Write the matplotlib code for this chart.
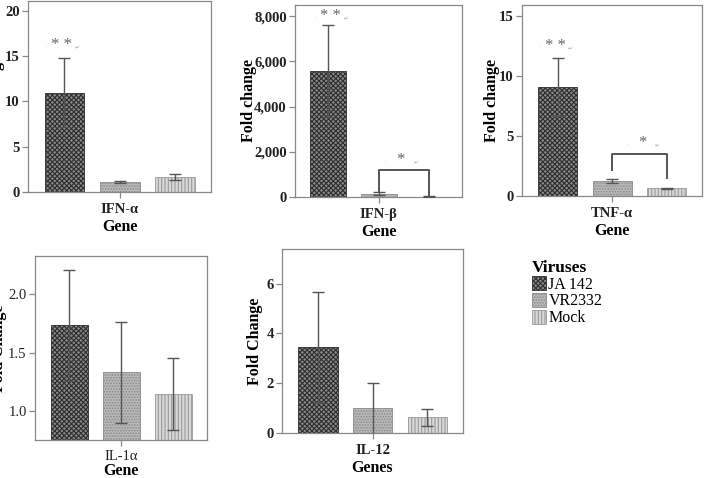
import matplotlib
matplotlib.use("Agg")
import matplotlib.pyplot as plt
from matplotlib.patches import Patch

plt.rcParams["font.family"] = ["Liberation Serif", "DejaVu Sans"]
plt.rcParams["hatch.linewidth"] = 0.8

# data
viruses = ["JA 142", "VR2332", "Mock"]

ifna_mean = [10.9, 1.1, 1.65]
ifna_lo = [7.2, 1.0, 1.3]
ifna_hi = [14.8, 1.2, 1.95]

ifnb_mean = [5550, 130, 20]
ifnb_lo = [3550, 70, 10]
ifnb_hi = [7600, 200, 30]

tnfa_mean = [9.1, 1.25, 0.65]
tnfa_lo = [6.7, 1.1, 0.62]
tnfa_hi = [11.5, 1.4, 0.68]

il1a_mean = [1.74, 1.33, 1.145]
il1a_lo = [1.26, 0.895, 0.84]
il1a_hi = [2.21, 1.765, 1.45]

il12_mean = [3.47, 0.99, 0.63]
il12_lo = [1.23, -0.05, 0.28]
il12_hi = [5.68, 2.0, 0.96]

# bar styles (face, hatch colour, hatch)
styles = [("#8a8a8a", "#2e2e2e", "xxxxxxx"),
          ("#b8b8b8", "#8a8a8a", "......"),
          ("#d8d8d8", "#9a9a9a", "|||||")]

fig = plt.figure(figsize=(7.04, 4.78), dpi=100)
W, H = 704.0, 478.0


def make_ax(l, r, t, b):
    return fig.add_axes([l / W, 1 - b / H, (r - l) / W, (b - t) / H])


def panel(ax, mean, lo, hi, ylim, yticks, ytl, gene, xlab, ylab, ylab_x,
          bold=True, xpad=4, labelpad=2):
    x = [0, 1, 2]
    for i in x:
        fc, hc, hatch = styles[i]
        ax.bar(i, mean[i], width=0.72, color=fc, edgecolor=hc, hatch=hatch,
               linewidth=0.6, zorder=2)
    yerr = [[m - l for m, l in zip(mean, lo)], [h - m for m, h in zip(mean, hi)]]
    ax.errorbar(x, mean, yerr=yerr, fmt="none", ecolor="#555555", elinewidth=1,
                capsize=4.5, capthick=1, zorder=3)
    ax.set_xlim(-0.66, 2.65)
    ax.set_ylim(*ylim)
    ax.set_yticks(yticks)
    ax.set_yticklabels(ytl)
    ax.set_xticks([1])
    ax.set_xticklabels([gene])
    wt = "bold" if bold else "normal"
    for lab in ax.get_yticklabels() + ax.get_xticklabels():
        lab.set_fontweight(wt)
        lab.set_fontsize(10.5)
        lab.set_color("#222222")
    ax.set_xlabel(xlab, fontsize=11.5, fontweight="bold", labelpad=labelpad)
    ax.set_ylabel(ylab, fontsize=11.5, fontweight="bold")
    ax.yaxis.set_label_coords(ylab_x, 0.5)
    for s in ax.spines.values():
        s.set_color("#888888")
        s.set_linewidth(0.9)
    ax.tick_params(direction="out", length=4, width=0.9, color="#888888", pad=2)
    ax.tick_params(axis="x", pad=xpad)


def stars(ax, x, y, s):
    ax.text(x, y, s, ha="center", va="center", fontsize=12, color="#666666")
    ax.annotate("\u21b5", (x, y), xytext=(11, -2), textcoords="offset points",
                ha="center", va="center", fontsize=4, color="#aaaaaa")
    ax.annotate(".", (x, y), xytext=(-11, 0), textcoords="offset points",
                ha="center", va="center", fontsize=4, color="#aaaaaa")


def bracket(ax, x0, x1, top, left_end, right_end):
    ax.plot([x0, x0, x1, x1], [left_end, top, top, right_end], color="#555555",
            lw=1.4, zorder=4)


# IFN-alpha
ax1 = make_ax(28, 211, 1, 192)
panel(ax1, ifna_mean, ifna_lo, ifna_hi, (0, 21.1), [0, 5, 10, 15, 20],
      ["0", "5", "10", "15", "20"], "IFN-\u03b1", "Gene", "Fold change", -0.125)
stars(ax1, -0.05, 16.2, "* *")

# IFN-beta
ax2 = make_ax(295, 462, 5, 197)
panel(ax2, ifnb_mean, ifnb_lo, ifnb_hi, (0, 8490), [0, 2000, 4000, 6000, 8000],
      ["0", "2,000", "4,000", "6,000", "8,000"], "IFN-\u03b2", "Gene", "Fold change", -0.23)
stars(ax2, 0.05, 8000, "* *")
bracket(ax2, 1.0, 2.0, 1190, 230, 60)
stars(ax2, 1.43, 1620, "*")

# TNF-alpha
ax3 = make_ax(522, 702, 5, 196)
panel(ax3, tnfa_mean, tnfa_lo, tnfa_hi, (0, 15.9), [0, 5, 10, 15],
      ["0", "5", "10", "15"], "TNF-\u03b1", "Gene", "Fold change", -0.12)
stars(ax3, -0.05, 12.5, "* *")
bracket(ax3, 1.0, 2.0, 3.47, 2.2, 1.5)
stars(ax3, 1.55, 4.4, "*")

# IL-1alpha
ax4 = make_ax(35, 207, 256, 440)
panel(ax4, il1a_mean, il1a_lo, il1a_hi, (0.75, 2.33), [1.0, 1.5, 2.0],
      ["1.0", "1.5", "2.0"], "IL-1\u03b1", "Gene", "Fold Change", -0.16,
      bold=False, xpad=3, labelpad=0)

# IL-12
ax5 = make_ax(282, 463, 249, 433)
panel(ax5, il12_mean, il12_lo, il12_hi, (0, 7.39), [0, 2, 4, 6],
      ["0", "2", "4", "6"], "IL-12", "Genes", "Fold Change", -0.105)

# legend
handles = [Patch(facecolor=fc, edgecolor=hc, hatch=h, linewidth=0.6)
           for fc, hc, h in styles]
leg = fig.legend(handles, viruses, loc="upper left",
                 bbox_to_anchor=(522 / W, 1 - 250 / H), frameon=False,
                 title="Viruses", fontsize=11.5, handlelength=0.9,
                 handleheight=1.0, handletextpad=0.15, labelspacing=0.02,
                 borderpad=0.1, alignment="left")
leg.get_title().set_fontweight("bold")
leg.get_title().set_fontsize(12.5)

fig.savefig("out.png", dpi=100)
